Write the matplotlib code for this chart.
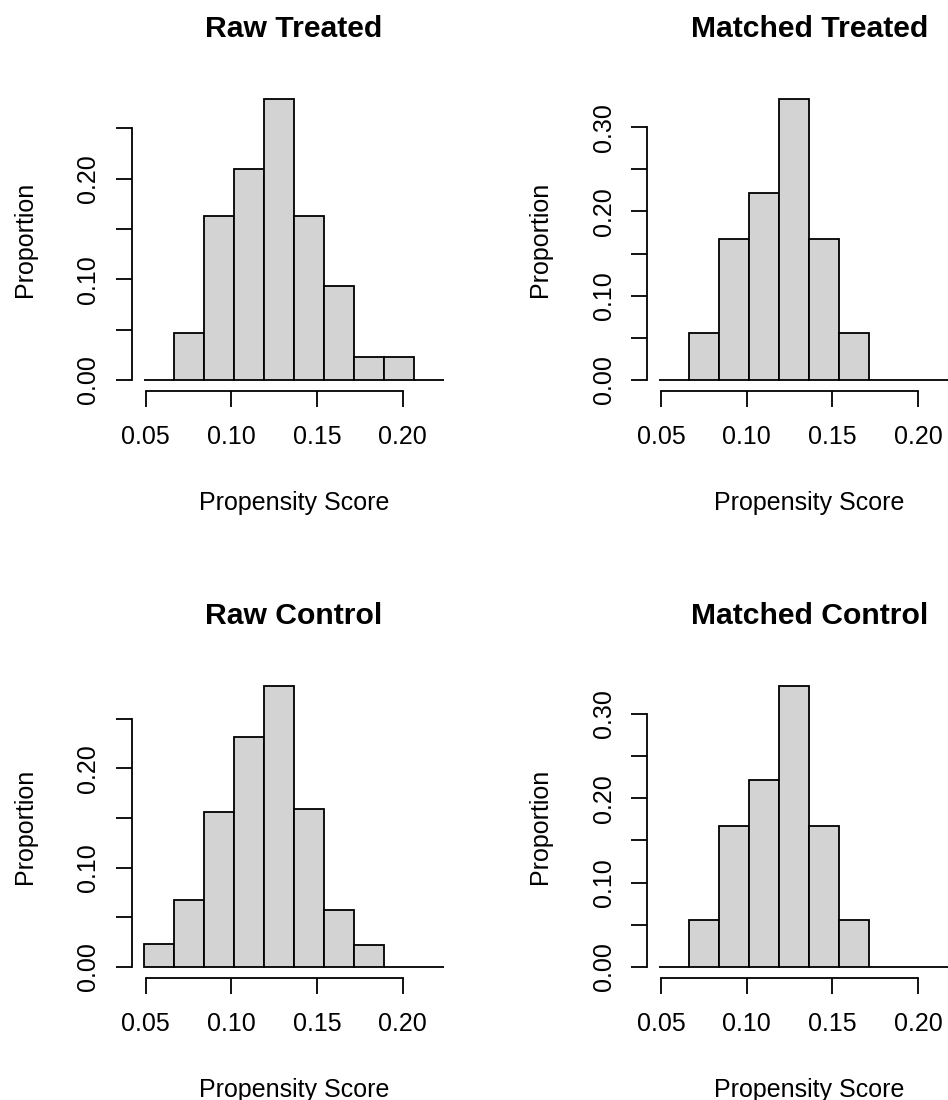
import numpy as np
import matplotlib
matplotlib.use("Agg")
import matplotlib.pyplot as plt

plt.rcParams['font.family'] = ['Liberation Sans', 'DejaVu Sans']

# histogram breaks shared by all four panels
breaks = [0.049, 0.0665, 0.084, 0.1015, 0.119, 0.1365, 0.154, 0.1715, 0.189, 0.2065, 0.224]

# proportions per bin
raw_treated = [0.0, 0.0465, 0.1628, 0.2093, 0.2791, 0.1628, 0.0930, 0.0233, 0.0233, 0.0]
matched_treated = [0.0, 0.0556, 0.1667, 0.2222, 0.3333, 0.1667, 0.0556, 0.0, 0.0, 0.0]
raw_control = [0.0228, 0.0672, 0.1559, 0.2319, 0.2829, 0.1589, 0.0571, 0.0225, 0.0, 0.0]
matched_control = [0.0, 0.0556, 0.1667, 0.2222, 0.3333, 0.1667, 0.0556, 0.0, 0.0, 0.0]

titles = ['Raw Treated', 'Matched Treated', 'Raw Control', 'Matched Control']
x_ticks = [0.05, 0.10, 0.15, 0.20]
x_ticklabels = ['0.05', '0.10', '0.15', '0.20']

W, H = 948, 1100
fig = plt.figure(figsize=(W / 100, H / 100), dpi=100)

# axes boxes in pixels: (left, top, width, height)
col_left = [132, 647.3]
row_top = [87.8, 674.7]
ax_w, ax_h = 324, 303.4

panels = [(raw_treated, 0, 0), (matched_treated, 0, 1),
          (raw_control, 1, 0), (matched_control, 1, 1)]

for (vals, r, c), title in zip(panels, titles):
    left = col_left[c]
    top = row_top[r]
    ax = fig.add_axes([left / W, 1 - (top + ax_h) / H, ax_w / W, ax_h / H])

    edges = np.array(breaks)
    ax.bar(edges[:-1], vals, width=np.diff(edges), align='edge',
           color='#D3D3D3', edgecolor='black', linewidth=1.3)

    xr = edges[-1] - edges[0]
    ax.set_xlim(edges[0] - 0.04 * xr, edges[-1] + 0.04 * xr)
    ymax = max(vals)
    ax.set_ylim(-0.04 * ymax, 1.04 * ymax)

    yt = np.arange(0, ymax + 1e-9, 0.05)
    ylabels = ['%.2f' % v if round(v / 0.05) % 2 == 0 else '' for v in yt]
    ax.set_yticks(yt)
    ax.set_yticklabels(ylabels)
    ax.set_xticks(x_ticks)
    ax.set_xticklabels(x_ticklabels)

    for s in ['top', 'right']:
        ax.spines[s].set_visible(False)
    for s in ['left', 'bottom']:
        ax.spines[s].set_linewidth(1.3)
    ax.spines['left'].set_bounds(yt[0], yt[-1])
    ax.spines['bottom'].set_bounds(x_ticks[0], x_ticks[-1])

    ax.tick_params(direction='out', length=11.5, width=1.3, labelsize=18)
    ax.tick_params(axis='x', pad=13)
    ax.tick_params(axis='y', pad=20, labelrotation=90)
    for lab in ax.get_yticklabels():
        lab.set_ha('center')
        lab.set_va('center')

    ax.set_title(title, fontsize=21.7, fontweight='bold', pad=36.8)
    ax.set_xlabel('Propensity Score', fontsize=18)
    ax.xaxis.label.set_va('baseline')
    ax.xaxis.set_label_coords(0.5, -118.8 / ax_h)
    ax.set_ylabel('Proportion', fontsize=18)
    ax.yaxis.label.set_va('center')
    ax.yaxis.set_label_coords(-107 / ax_w, 0.5)

fig.savefig('out.png', dpi=100)
